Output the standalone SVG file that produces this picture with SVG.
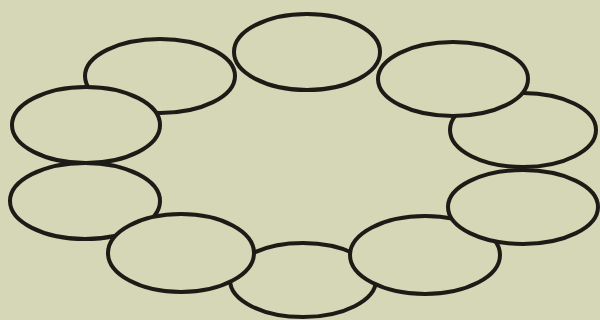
<svg xmlns="http://www.w3.org/2000/svg" width="600" height="320" viewBox="0 0 600 320">
<style>
.bg{fill:#d6d7b6}
.e{fill:#d6d7b6;stroke:#1c1b16;stroke-width:4}
</style>
<rect class="bg" x="0" y="0" width="600" height="320"/>
<g id="ring">
<g id="e9"><ellipse class="e" cx="523" cy="130" rx="73" ry="37"/></g>
<g id="e10"><ellipse class="e" cx="453" cy="79" rx="75" ry="37"/></g>
<g id="e1"><ellipse class="e" cx="307" cy="52" rx="73" ry="38"/></g>
<g id="e2"><ellipse class="e" cx="160" cy="76" rx="75" ry="37"/></g>
<g id="e3"><ellipse class="e" cx="86" cy="125" rx="74" ry="38"/></g>
<g id="e4"><ellipse class="e" cx="85" cy="201" rx="75" ry="38"/></g>
<g id="e6"><ellipse class="e" cx="303" cy="280" rx="73" ry="37"/></g>
<g id="e5"><ellipse class="e" cx="181" cy="253" rx="73" ry="39"/></g>
<g id="e7"><ellipse class="e" cx="425" cy="255" rx="75" ry="39"/></g>
<g id="e8"><ellipse class="e" cx="523" cy="207" rx="75" ry="37"/></g>
</g>
</svg>
